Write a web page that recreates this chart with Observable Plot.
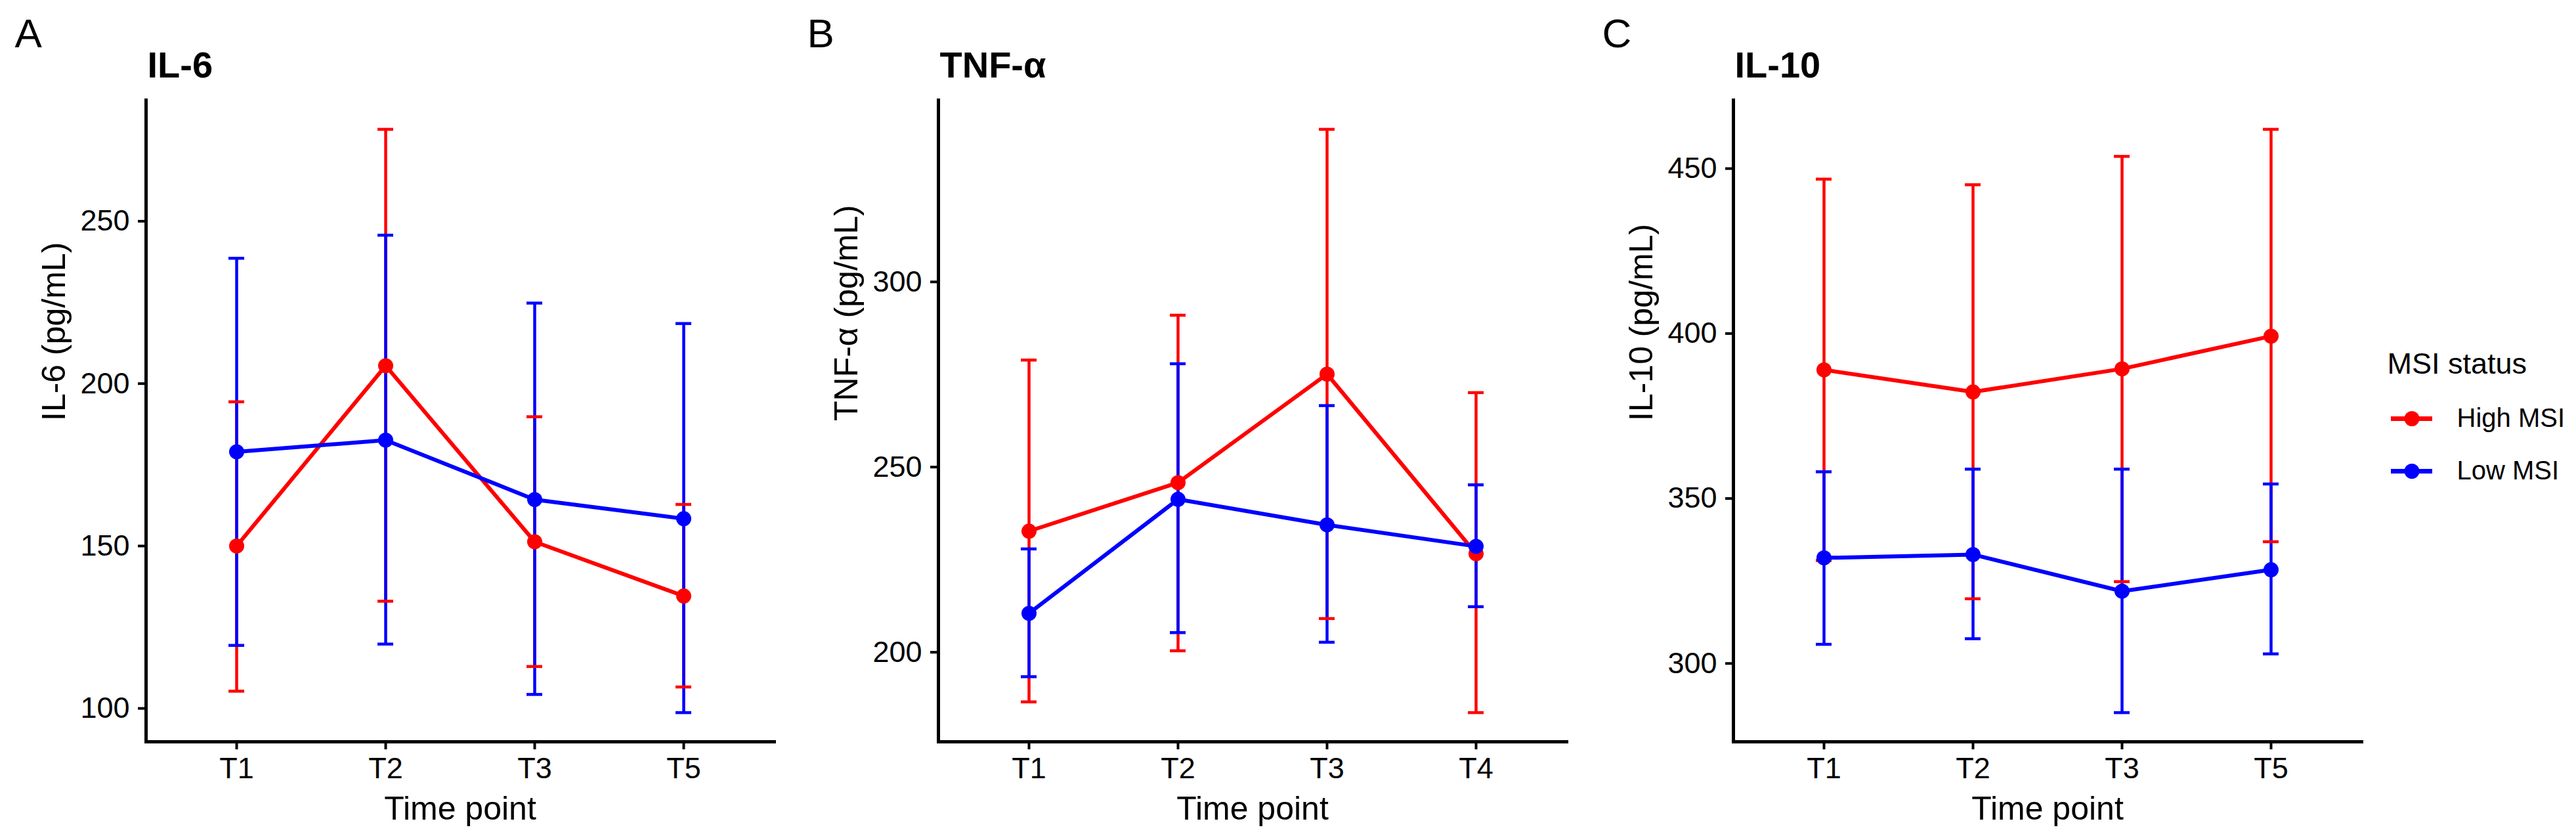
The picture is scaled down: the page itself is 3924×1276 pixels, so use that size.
<!DOCTYPE html>
<html><head><meta charset="utf-8">
<script src="https://cdn.jsdelivr.net/npm/d3@7"></script>
<script src="https://cdn.jsdelivr.net/npm/@observablehq/plot@0.6"></script>
<style>
body{margin:0;background:#fff;}
#fig{position:relative;width:3924px;height:1276px;background:#fff;font-family:"Liberation Sans",Arial,sans-serif;}
#fig svg{position:absolute;top:0;}
</style></head><body><div id="fig"></div>
<script>
const groups = ["High MSI", "Low MSI"];
const colors = ["#FF0000", "#0000FF"];
const xTitle = "Time point";
const legendTitle = "MSI status";

// Panel A: IL-6
const il6Times = ["T1", "T2", "T3", "T5"];
const il6HighMean = [150.0, 205.5, 151.3, 134.6];
const il6HighLo   = [105.3, 133.0, 112.9, 106.6];
const il6HighHi   = [194.4, 278.3, 189.8, 162.8];
const il6LowMean  = [179.0, 182.6, 164.3, 158.4];
const il6LowLo    = [119.4, 119.8, 104.3, 98.7];
const il6LowHi    = [238.6, 245.7, 224.8, 218.5];
const il6Ticks = [100, 150, 200, 250];

// Panel B: TNF-α
const tnfTimes = ["T1", "T2", "T3", "T4"];
const tnfHighMean = [232.7, 245.8, 275.1, 226.6];
const tnfHighLo   = [186.6, 200.4, 209.1, 183.7];
const tnfHighHi   = [278.9, 291.0, 341.2, 270.1];
const tnfLowMean  = [210.5, 241.3, 234.4, 228.6];
const tnfLowLo    = [193.4, 205.3, 202.7, 212.3];
const tnfLowHi    = [227.9, 277.9, 266.6, 245.2];
const tnfTicks = [200, 250, 300];

// Panel C: IL-10
const il10Times = ["T1", "T2", "T3", "T5"];
const il10HighMean = [389.0, 382.3, 389.3, 399.2];
const il10HighLo   = [331.2, 319.6, 324.8, 336.9];
const il10HighHi   = [446.8, 445.1, 453.7, 461.9];
const il10LowMean  = [332.0, 333.0, 321.9, 328.4];
const il10LowLo    = [305.8, 307.5, 285.1, 302.9];
const il10LowHi    = [358.1, 358.9, 358.9, 354.4];
const il10Ticks = [300, 350, 400, 450];

const FONT = '"Liberation Sans", Arial, sans-serif';
const fig = document.getElementById("fig");

function panel(o) {
  const rows = [];
  o.times.forEach((t, i) => rows.push({time: t, group: groups[0], mean: o.highMean[i], lo: o.highLo[i], hi: o.highHi[i]}));
  o.times.forEach((t, i) => rows.push({time: t, group: groups[1], mean: o.lowMean[i], lo: o.lowLo[i], hi: o.lowHi[i]}));
  const ymin = d3.min(rows, d => d.lo), ymax = d3.max(rows, d => d.hi);
  const pad = (ymax - ymin) * 0.05;
  const svg = Plot.plot({
    width: 1200, height: 1276,
    marginLeft: 222, marginRight: 21, marginTop: 152, marginBottom: 147,
    style: {fontFamily: FONT, fontSize: "45px", color: "black", background: "transparent", overflow: "visible"},
    // band scale whose centres sit where ggplot's discrete positions are (expand 0.6), bandwidth = cap width
    x: {type: "band", domain: o.times, paddingInner: 0.895, paddingOuter: 0.5474, align: 0.5},
    y: {domain: [ymin - pad, ymax + pad]},
    color: {domain: groups, range: colors},
    marks: [
      Plot.axisX({tickSize: 12, tickPadding: 12, strokeWidth: 4, fontSize: 45, label: null}),
      Plot.axisY({ticks: o.ticks, tickSize: 12, tickPadding: 13, strokeWidth: 4, fontSize: 45, label: null}),
      Plot.frame({anchor: "left", strokeWidth: 5}),
      Plot.frame({anchor: "bottom", strokeWidth: 5}),
      Plot.ruleX(rows, {x: "time", y1: "lo", y2: "hi", stroke: "group", strokeWidth: 4.5}),
      Plot.tickY(rows, {x: "time", y: "lo", stroke: "group", strokeWidth: 4.5}),
      Plot.tickY(rows, {x: "time", y: "hi", stroke: "group", strokeWidth: 4.5}),
      Plot.line(rows, {x: "time", y: "mean", stroke: "group", strokeWidth: 6}),
      Plot.dot(rows, {x: "time", y: "mean", fill: "group", r: 11.5}),
      Plot.text([o.title], {text: d => d, frameAnchor: "top-left", textAnchor: "start", lineAnchor: "bottom", dx: 2, dy: -35, fontSize: 56, fontWeight: "bold"}),
      Plot.text([o.tag], {text: d => d, frameAnchor: "top-left", textAnchor: "start", lineAnchor: "bottom", dx: -200, dy: -81, fontSize: 62}),
      Plot.text([o.yLabel], {text: d => d, frameAnchor: "left", rotate: -90, dx: -140, fontSize: 50}),
      Plot.text([xTitle], {text: d => d, frameAnchor: "bottom", lineAnchor: "bottom", dy: 118, fontSize: 50})
    ]
  });
  svg.style.left = o.left + "px";
  fig.appendChild(svg);
}

panel({times: il6Times, highMean: il6HighMean, highLo: il6HighLo, highHi: il6HighHi,
  lowMean: il6LowMean, lowLo: il6LowLo, lowHi: il6LowHi, ticks: il6Ticks,
  title: "IL-6", yLabel: "IL-6 (pg/mL)", tag: "A", left: 0});
panel({times: tnfTimes, highMean: tnfHighMean, highLo: tnfHighLo, highHi: tnfHighHi,
  lowMean: tnfLowMean, lowLo: tnfLowLo, lowHi: tnfLowHi, ticks: tnfTicks,
  title: "TNF-α", yLabel: "TNF-α (pg/mL)", tag: "B", left: 1207});
panel({times: il10Times, highMean: il10HighMean, highLo: il10HighLo, highHi: il10HighHi,
  lowMean: il10LowMean, lowLo: il10LowLo, lowHi: il10LowHi, ticks: il10Ticks,
  title: "IL-10", yLabel: "IL-10 (pg/mL)", tag: "C", left: 2418});

const legend = Plot.plot({
  width: 294, height: 260, margin: 0,
  style: {fontFamily: FONT, fontSize: "40px", color: "black", background: "transparent", overflow: "visible"},
  x: {domain: [0, 1], range: [12, 75], axis: null},
  y: {type: "point", domain: groups, range: [137, 217], padding: 0, axis: null},
  color: {domain: groups, range: colors},
  marks: [
    Plot.ruleY(groups, {y: d => d, x1: 0, x2: 1, stroke: d => d, strokeWidth: 7}),
    Plot.dot(groups, {x: 0.5, y: d => d, fill: d => d, r: 11.5}),
    Plot.text(groups, {x: 1, y: d => d, text: d => d, dx: 37, textAnchor: "start", fontSize: 40}),
    Plot.text([legendTitle], {text: d => d, frameAnchor: "top-left", textAnchor: "start", lineAnchor: "bottom", dx: 6, dy: 68, fontSize: 45})
  ]
});
legend.style.left = "3630px";
legend.style.top = "500px";
fig.appendChild(legend);
</script>
</body></html>
